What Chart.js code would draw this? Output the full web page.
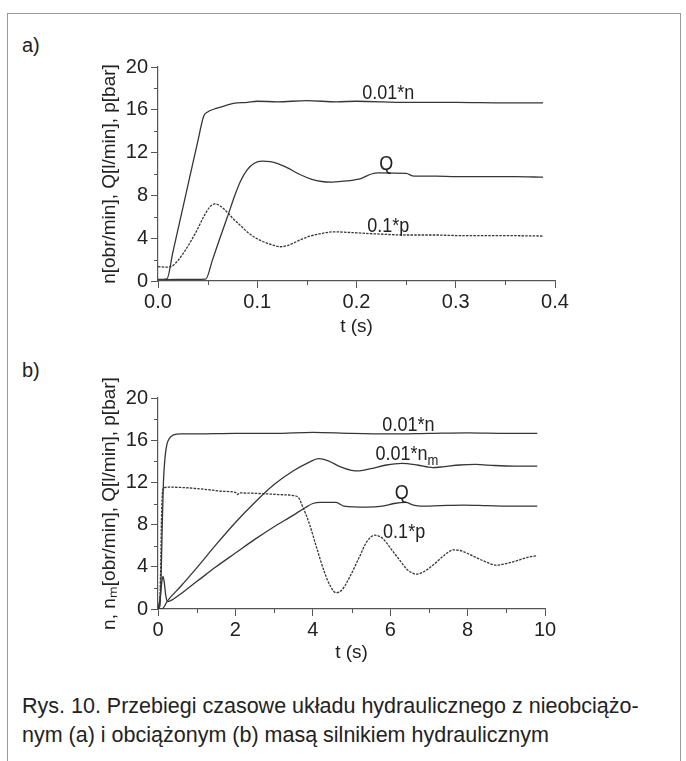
<!DOCTYPE html>
<html lang="pl">
<head>
<meta charset="UTF-8">
<title>Rys. 10</title>
<script src="https://cdn.jsdelivr.net/npm/chart.js"></script>
<style>
  body { margin: 0; background: #fff; font-family: 'Liberation Sans', Arial, sans-serif; color: #222; }
  #ramka { position: absolute; left: 7px; top: 13px; width: 672px; height: 800px; border: 1px solid #9a9a9a; }
  .lit { position: absolute; left: 22px; font-size: 20px; line-height: 22px; }
  canvas { position: absolute; left: 90px; }
  #podpis { position: absolute; left: 22px; top: 692px; font-size: 21.5px; line-height: 29px; white-space: nowrap; }
</style>
</head>
<body>
<div id="ramka"></div>
<div class="lit" style="top:34px">a)</div>
<div class="lit" style="top:359px">b)</div>
<canvas id="wykresA" width="490" height="300" style="top:50px"></canvas>
<canvas id="wykresB" width="490" height="306" style="top:370px"></canvas>
<div id="podpis">Rys. 10. Przebiegi czasowe układu hydraulicznego z nieobciążo-<br>nym (a) i obciążonym (b) masą silnikiem hydraulicznym</div>

<script>
// a) silnik nieobciążony, t [s]
const a_n = [[0,0.15],[0.009,0.2],[0.015,2.7],[0.03,8.9],[0.04,13.0],[0.046,15.4],[0.05,15.8],[0.056,16.05],[0.065,16.3],[0.076,16.6],[0.09,16.7],[0.1,16.8],[0.12,16.75],[0.15,16.85],[0.18,16.75],[0.2,16.8],[0.25,16.7],[0.3,16.7],[0.35,16.65],[0.388,16.65]];
const a_Q = [[0,0.12],[0.02,0.15],[0.048,0.18],[0.055,2.0],[0.062,3.9],[0.07,6.0],[0.077,7.9],[0.083,9.3],[0.09,10.4],[0.097,11.0],[0.105,11.2],[0.113,11.15],[0.12,11.0],[0.13,10.6],[0.143,9.95],[0.155,9.5],[0.165,9.3],[0.175,9.25],[0.19,9.35],[0.205,9.6],[0.215,10.0],[0.222,10.1],[0.25,10.05],[0.258,9.8],[0.28,9.8],[0.3,9.75],[0.33,9.75],[0.36,9.75],[0.388,9.7]];
const a_p = [[0,1.35],[0.007,1.3],[0.013,1.35],[0.02,1.9],[0.027,2.8],[0.033,3.7],[0.039,4.7],[0.046,6.0],[0.052,6.9],[0.057,7.2],[0.062,7.05],[0.069,6.5],[0.076,5.8],[0.083,5.2],[0.091,4.5],[0.099,4.0],[0.108,3.6],[0.116,3.35],[0.123,3.2],[0.13,3.3],[0.14,3.7],[0.15,4.1],[0.163,4.4],[0.177,4.6],[0.19,4.55],[0.2,4.5],[0.22,4.4],[0.25,4.3],[0.28,4.3],[0.3,4.25],[0.34,4.25],[0.388,4.2]];
const a_napisy = [
  { text: '0.01*n', x: 0.232, y: 17.05 },
  { text: 'Q', x: 0.230, y: 10.35 },
  { text: '0.1*p', x: 0.232, y: 4.6 }
];

// b) silnik obciążony masą, t [s]
const b_n = [[0,0],[0.05,0.3],[0.08,3],[0.11,8],[0.14,12],[0.18,14.3],[0.23,15.6],[0.3,16.2],[0.4,16.5],[0.6,16.6],[1,16.6],[2,16.65],[3,16.65],[4,16.75],[5,16.65],[6,16.6],[7,16.65],[8,16.7],[9,16.65],[9.8,16.65]];
const b_nm = [[0,0],[0.1,0],[0.25,0.8],[0.6,2.2],[1,3.9],[1.5,6.1],[2,8.2],[2.5,10.1],[3,11.8],[3.5,13.1],[3.9,13.9],[4.15,14.25],[4.4,14.05],[4.7,13.5],[5.0,13.15],[5.2,13.1],[5.5,13.3],[5.9,13.65],[6.3,13.8],[6.7,13.65],[7.1,13.4],[7.4,13.5],[7.8,13.65],[8.2,13.7],[8.7,13.6],[9.2,13.55],[9.8,13.55]];
const b_Q = [[0,0],[0.06,1.2],[0.1,2.6],[0.13,3.1],[0.16,2.6],[0.2,1.3],[0.25,0.7],[0.4,0.95],[1,2.6],[1.5,4.0],[2,5.3],[2.5,6.6],[3,7.8],[3.5,8.9],[3.8,9.6],[4,10.0],[4.2,10.1],[4.6,10.1],[4.8,9.75],[5.4,9.65],[5.8,9.75],[6.1,10.0],[6.4,10.1],[6.6,9.85],[6.8,9.75],[7.3,9.8],[7.9,9.85],[8.5,9.8],[9.2,9.75],[9.8,9.75]];
const b_p = [[0,0],[0.04,0.5],[0.07,4],[0.09,8.5],[0.12,11.2],[0.16,11.5],[0.3,11.55],[0.7,11.5],[1.2,11.35],[1.7,11.15],[2.0,11.05],[2.05,10.85],[2.1,11.0],[2.6,10.95],[3.1,10.85],[3.5,10.75],[3.62,10.6],[3.75,9.6],[3.9,8.2],[4.1,5.8],[4.3,3.5],[4.45,2.2],[4.6,1.55],[4.75,1.8],[4.95,3.0],[5.2,4.9],[5.4,6.4],[5.6,7.0],[5.8,6.7],[6.0,5.8],[6.25,4.6],[6.45,3.7],[6.68,3.3],[6.9,3.6],[7.15,4.3],[7.4,5.1],[7.63,5.6],[7.85,5.5],[8.15,5.0],[8.45,4.5],[8.75,4.15],[9.0,4.3],[9.3,4.6],[9.55,4.9],[9.8,5.05]];
const b_napisy = [
  { text: '0.01*n', x: 6.47, y: 16.9 },
  { text: '0.01*n', sub: 'm', x: 6.43, y: 14.1 },
  { text: 'Q', x: 6.3, y: 10.4 },
  { text: '0.1*p', x: 6.36, y: 6.7 }
];

const yTicks = [0, 4, 8, 12, 16, 20];

const FONT = "'Liberation Sans', Arial, sans-serif";
const KOLOR = '#363636';

// male kreski posrednie na osiach
const kreskiPlugin = {
  id: 'kreski',
  afterDraw(chart, args, opts) {
    const ctx = chart.ctx;
    const sx = chart.scales.x, sy = chart.scales.y;
    ctx.save();
    ctx.strokeStyle = '#555';
    ctx.lineWidth = 1;
    ctx.beginPath();
    for (let v = opts.xMinor; v < sx.max; v += opts.xMajor) {
      const px = Math.round(sx.getPixelForValue(v)) + 0.5;
      ctx.moveTo(px, sy.bottom);
      ctx.lineTo(px, sy.bottom + 4);
    }
    for (let v = opts.yMinor; v < sy.max; v += opts.yMajor) {
      const py = Math.round(sy.getPixelForValue(v)) + 0.5;
      ctx.moveTo(sx.left, py);
      ctx.lineTo(sx.left - 4, py);
    }
    ctx.stroke();
    ctx.restore();
  }
};

// opisy krzywych (lekko wydluzone w pionie jak w oryginale)
const napisyPlugin = {
  id: 'napisy',
  afterDatasetsDraw(chart, args, opts) {
    const ctx = chart.ctx;
    const sx = chart.scales.x, sy = chart.scales.y;
    const k = 1.15;
    ctx.save();
    ctx.fillStyle = '#222';
    ctx.textBaseline = 'alphabetic';
    ctx.textAlign = 'left';
    opts.items.forEach(n => {
      ctx.font = '18px ' + FONT;
      const w = ctx.measureText(n.text).width;
      let ws = 0;
      if (n.sub) {
        ctx.font = '13px ' + FONT;
        ws = ctx.measureText(n.sub).width;
      }
      const x0 = sx.getPixelForValue(n.x) - (w + ws) / 2;
      const y0 = sy.getPixelForValue(n.y);
      ctx.save();
      ctx.translate(x0, y0);
      ctx.scale(1, k);
      ctx.font = '18px ' + FONT;
      ctx.fillText(n.text, 0, 0);
      if (n.sub) {
        ctx.font = '13px ' + FONT;
        ctx.fillText(n.sub, w, 4.5);
      }
      ctx.restore();
    });
    ctx.restore();
  }
};

function seria(punkty, kreski) {
  return {
    data: punkty.map(([x, y]) => ({ x: x, y: y })),
    borderColor: KOLOR,
    borderWidth: 1.3,
    borderDash: kreski ? [2.5, 1.2] : [],
    pointRadius: 0,
    fill: false,
    cubicInterpolationMode: 'monotone'
  };
}

function wykres(id, serie, xMax, xStep, xFmt, yTitle, napisy, prawo, gora, xH) {
  return new Chart(document.getElementById(id), {
    type: 'line',
    data: { datasets: serie },
    options: {
      responsive: false,
      animation: false,
      devicePixelRatio: 1,
      layout: { padding: { left: 0, right: prawo, top: gora, bottom: 0 } },
      plugins: {
        legend: { display: false },
        tooltip: { enabled: false },
        kreski: { xMinor: xStep / 2, xMajor: xStep, yMinor: 2, yMajor: 4 },
        napisy: { items: napisy }
      },
      scales: {
        x: {
          type: 'linear', min: 0, max: xMax,
          afterFit: s => { s.height = xH; },
          ticks: { stepSize: xStep, callback: xFmt, color: '#222', padding: 2,
                   font: { family: FONT, size: 20 }, maxRotation: 0 },
          grid: { drawOnChartArea: false, tickLength: 7, color: '#555', lineWidth: 1 },
          border: { color: '#555', width: 1.2 },
          title: { display: true, text: 't (s)', color: '#222',
                   font: { family: FONT, size: 19 }, padding: { top: 0, bottom: 12 } }
        },
        y: {
          min: 0, max: 20,
          afterFit: s => { s.width = 68; },
          afterBuildTicks: s => { s.ticks = yTicks.map(v => ({ value: v })); },
          ticks: { color: '#222', padding: 3, font: { family: FONT, size: 20 } },
          grid: { drawOnChartArea: false, tickLength: 7, color: '#555', lineWidth: 1 },
          border: { color: '#555', width: 1.2 },
          title: { display: true, text: yTitle, color: '#222',
                   font: { family: FONT, size: 19 }, padding: { top: 8, bottom: 0 } }
        }
      }
    },
    plugins: [kreskiPlugin, napisyPlugin]
  });
}

wykres('wykresA',
  [seria(a_n), seria(a_Q), seria(a_p, true)],
  0.4, 0.1, v => v.toFixed(1),
  'n[obr/min], Q[l/min], p[bar]', a_napisy, 25, 17, 69);

wykres('wykresB',
  [seria(b_n), seria(b_nm), seria(b_Q), seria(b_p, true)],
  10, 2, v => String(Math.round(v)),
  'n, nₘ[obr/min], Q[l/min], p[bar]', b_napisy, 35, 28, 67);
</script>
</body>
</html>
